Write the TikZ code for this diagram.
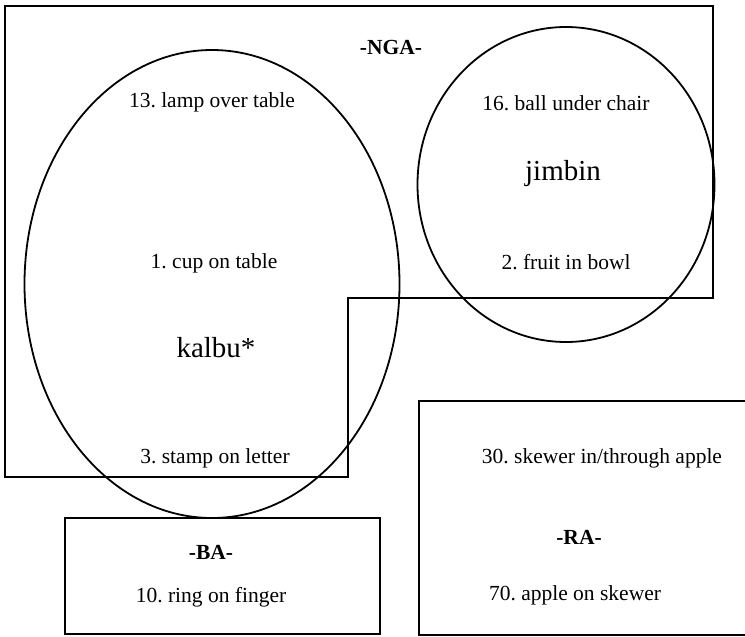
\documentclass[tikz,border=0pt]{standalone}
\usepackage{fontspec}
\setmainfont{Liberation Serif}
\usetikzlibrary{shapes.geometric}
\frenchspacing

\begin{document}
\begin{tikzpicture}[x=1pt,y=-1pt,line width=1.8pt]%
        \tikzset{%
            label text/.style={font=\fontsize{21.5}{24}\selectfont},
            case text/.style={font=\fontsize{21.5}{24}\selectfont\bfseries},
            word text/.style={font=\fontsize{29}{32}\selectfont},
            region/.style={draw, ellipse, inner sep=0pt},
        }%
        \useasboundingbox (0,0) rectangle (745,637);
        % the -NGA- area, cut away at the bottom right
        \draw (5,6) -- (713,6) -- (713,298) -- (348,298) -- (348,477) -- (5,477) -- cycle;
        \draw (65,518) rectangle (380,634);
        \draw (419,401) rectangle (760,635);
        \node[region, minimum width=375pt, minimum height=468pt] (kalbu) at (212,284) {};
        \node[region, minimum width=297pt, minimum height=315pt] (jimbin) at (566,184.5) {};
        % texts
        \node[case text] (nga) at (391,47) {-NGA-};
        \node[label text] (lamp) at (212,102) {13. lamp over table};
        \node[label text] (cup) at (214,263) {1. cup on table};
        \node[word text] (kalbuword) at (216,348) {kalbu*};
        \node[label text] (stamp) at (215,458) {3. stamp on letter};
        \node[label text] (ball) at (566,103) {16. ball under chair};
        \node[word text] (jimbinword) at (563,174) {jimbin};
        \node[label text] (fruit) at (566,262) {2. fruit in bowl};
        \node[case text] (ba) at (211,552) {-BA-};
        \node[label text] (ring) at (211,597) {10. ring on finger};
        \node[label text] (skewer) at (602,458) {30. skewer in/through apple};
        \node[case text] (ra) at (579,537) {-RA-};
        \node[label text] (apple) at (575,595) {70. apple on skewer};
    \end{tikzpicture}
\end{document}
